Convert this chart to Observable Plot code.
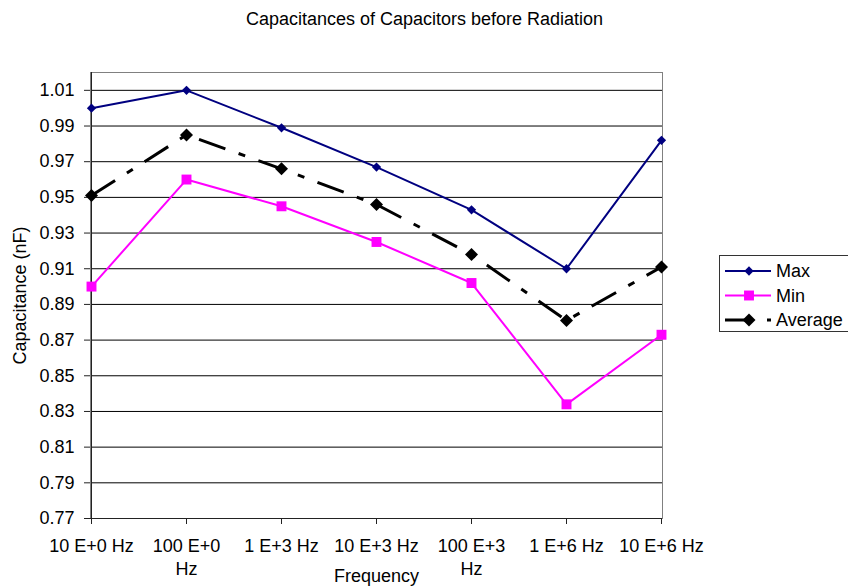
<!DOCTYPE html>
<html>
<head>
<meta charset="utf-8">
<script src="https://cdn.jsdelivr.net/npm/d3@7"></script>
<script src="https://cdn.jsdelivr.net/npm/@observablehq/plot@0.6"></script>
<style>
  html, body { margin: 0; padding: 0; background: #fff; overflow: hidden; }
  #chart { position: relative; width: 848px; height: 588px; font-family: Arial, "Liberation Sans", sans-serif; }
  #legend { position: absolute; left: 719px; top: 255px; width: 140px; height: 77px;
            border: 1px solid #333; background: #fff; box-sizing: border-box; }
  #legend svg { display: block; overflow: visible; }
</style>
</head>
<body>
<div id="chart"></div>
<script>
// Measurement frequencies (x categories) and their printed axis labels
const frequencies = ["10 E+0 Hz", "100 E+0 Hz", "1 E+3 Hz", "10 E+3 Hz", "100 E+3 Hz", "1 E+6 Hz", "10 E+6 Hz"];
const frequencyLabels = ["10 E+0 Hz", "100 E+0\nHz", "1 E+3 Hz", "10 E+3 Hz", "100 E+3\nHz", "1 E+6 Hz", "10 E+6 Hz"];

// Capacitance in nF
const maxValues     = [1.000, 1.010, 0.989, 0.967, 0.943, 0.910, 0.982];
const minValues     = [0.900, 0.960, 0.945, 0.925, 0.902, 0.834, 0.873];
const averageValues = [0.951, 0.985, 0.966, 0.946, 0.918, 0.881, 0.911];

// Value axis ticks
const yTicks = [0.77, 0.79, 0.81, 0.83, 0.85, 0.87, 0.89, 0.91, 0.93, 0.95, 0.97, 0.99, 1.01];

const titleText = "Capacitances of Capacitors before Radiation";
const xLabel = "Frequency";
const yLabel = "Capacitance (nF)";

const series = [
  {name: "Max",     values: maxValues,     color: "#000080", width: 2, dash: null,         rotate: 45, r: 3.7},
  {name: "Min",     values: minValues,     color: "#FF00FF", width: 2, dash: null,         rotate: 0,  r: 5.6},
  {name: "Average", values: averageValues, color: "#000000", width: 3, dash: "28,14,7,14", rotate: 45, r: 5.2}
];

const rows = series.flatMap(s => s.values.map((v, i) => ({series: s.name, frequency: frequencies[i], value: v})));

const fontFamily = 'Arial, "Liberation Sans", sans-serif';
const fontSize = 18;

const seriesMarks = series.flatMap(s => {
  const data = rows.filter(d => d.series === s.name);
  return [
    Plot.line(data, {
      x: "frequency", y: "value", stroke: s.color, strokeWidth: s.width,
      strokeDasharray: s.dash, strokeLinecap: s.dash ? "butt" : "round", strokeLinejoin: "round"
    }),
    // square markers, turned 45° for the diamond-shaped ones
    Plot.dot(data, {
      x: "frequency", y: "value", symbol: "square", rotate: s.rotate, r: s.r,
      fill: s.color, stroke: "none"
    })
  ];
});

const plot = Plot.plot({
  width: 848,
  height: 588,
  marginLeft: 90,
  marginRight: 186,
  marginTop: 72,
  marginBottom: 70,
  style: {fontFamily, fontSize: fontSize + "px", color: "#000", background: "#fff"},
  x: {type: "point", domain: frequencies, padding: 0},
  y: {domain: [0.77, 1.02]},
  marks: [
    Plot.gridY({ticks: yTicks, stroke: "#000", strokeOpacity: 1}),
    Plot.frame({stroke: "#808080"}),
    Plot.ruleY([0.77], {stroke: "#222"}),
    Plot.ruleX([frequencies[0]], {stroke: "#222"}),
    Plot.axisY({ticks: yTicks, tickFormat: d3.format(".2f"), tickSize: 6, tickPadding: 10, label: null, fontSize, stroke: "#222"}),
    Plot.axisX({
      tickFormat: d => frequencyLabels[frequencies.indexOf(d)],
      tickSize: 6, tickPadding: 11, label: null, fontSize, lineHeight: 1.28, stroke: "#222"
    }),
    ...seriesMarks,
    Plot.text([titleText], {text: d => d, frameAnchor: "top", lineAnchor: "middle", textAnchor: "middle", dx: 48, dy: -53, fontSize}),
    Plot.text([xLabel], {text: d => d, frameAnchor: "bottom", lineAnchor: "middle", textAnchor: "middle", dy: 58, fontSize}),
    Plot.text([yLabel], {text: d => d, frameAnchor: "left", lineAnchor: "middle", textAnchor: "middle", dx: -70, rotate: -90, fontSize})
  ]
});

const chart = document.getElementById("chart");
chart.appendChild(plot);

// Legend box on the right
const legend = d3.select(chart).append("div").attr("id", "legend");
const lsvg = legend.append("svg").attr("width", 138).attr("height", 75);
series.forEach((s, i) => {
  const cy = 15 + i * 24.5;
  const g = lsvg.append("g").attr("transform", `translate(0,${cy})`);
  g.append("line")
    .attr("x1", 5).attr("x2", 51)
    .attr("y1", 0).attr("y2", 0)
    .attr("stroke", s.color).attr("stroke-width", s.width)
    .attr("stroke-dasharray", s.dash ? "22,20,4,10" : null);
  g.append("path")
    .attr("d", d3.symbol(d3.symbolSquare, Math.PI * s.r * s.r)())
    .attr("transform", `translate(29,0) rotate(${s.rotate})`)
    .attr("fill", s.color);
  g.append("text")
    .attr("x", 56).attr("y", 0).attr("dy", "0.35em")
    .attr("font-size", fontSize).attr("font-family", fontFamily)
    .text(s.name);
});
</script>
</body>
</html>
